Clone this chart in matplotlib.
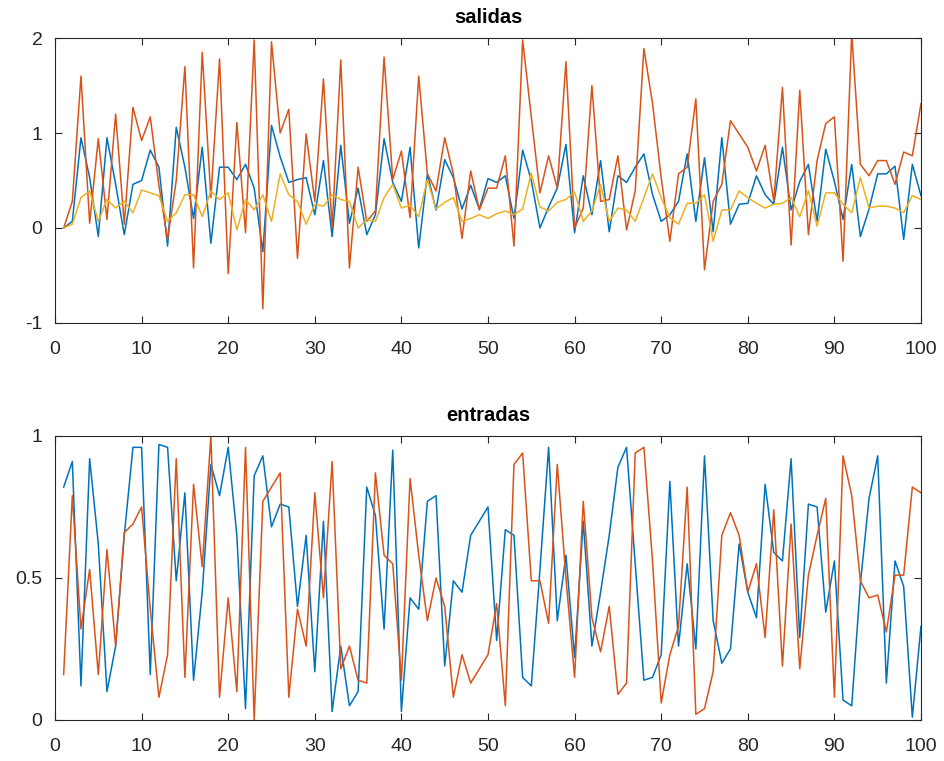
import matplotlib
matplotlib.use('Agg')
import matplotlib.pyplot as plt
import numpy as np

plt.rcParams['font.family'] = ['Liberation Sans', 'DejaVu Sans']
plt.rcParams['axes.unicode_minus'] = False

x = np.arange(1, 101)

# salidas
sal_blue = [0, 0.07, 0.95, 0.53, -0.09, 0.95, 0.46, -0.07, 0.46, 0.5,
            0.82, 0.64, -0.19, 1.06, 0.64, 0.1, 0.85, -0.16, 0.64, 0.64,
            0.51, 0.67, 0.42, -0.25, 1.08, 0.75, 0.48, 0.51, 0.53, 0.14,
            0.71, -0.09, 0.87, 0.05, 0.42, -0.07, 0.14, 0.94, 0.48, 0.28,
            0.85, -0.21, 0.57, 0.19, 0.72, 0.53, 0.2, 0.45, 0.2, 0.52,
            0.48, 0.55, 0.1, 0.82, 0.5, 0.0, 0.22, 0.42, 0.88, -0.05,
            0.55, 0.14, 0.71, -0.04, 0.55, 0.48, 0.64, 0.78, 0.35, 0.07,
            0.14, 0.28, 0.78, 0.07, 0.74, -0.04, 0.95, 0.04, 0.25, 0.26,
            0.55, 0.35, 0.25, 0.85, 0.19, 0.49, 0.67, 0.07, 0.83, 0.49,
            0.09, 0.67, -0.09, 0.2, 0.57, 0.57, 0.65, -0.12, 0.67, 0.34]
sal_orange = [0, 0.28, 1.6, 0.05, 0.94, 0.09, 1.2, 0.04, 1.27, 0.92,
              1.17, 0.45, -0.12, 0.5, 1.7, -0.42, 1.85, 0.32, 1.78, -0.48,
              1.11, -0.05, 1.98, -0.85, 1.96, 1.0, 1.25, -0.32, 0.99, 0.28,
              1.57, 0.0, 1.77, -0.42, 0.64, 0.07, 0.18, 1.8, 0.51, 0.81,
              0.11, 1.6, 0.57, 0.39, 0.95, 0.57, -0.11, 0.6, 0.19, 0.42,
              0.42, 0.76, -0.19, 1.98, 1.17, 0.37, 0.76, 0.42, 1.75, 0.0,
              0.21, 1.5, 0.28, 0.3, 0.76, -0.02, 0.39, 1.89, 1.31, 0.53,
              -0.14, 0.57, 0.64, 1.36, -0.44, 0.28, 0.46, 1.13, 0.99, 0.85,
              0.6, 0.87, 0.28, 1.48, -0.18, 1.45, -0.07, 0.71, 1.1, 1.17,
              -0.35, 2.05, 0.67, 0.55, 0.71, 0.71, 0.46, 0.8, 0.76, 1.31]
sal_yellow = [0, 0.04, 0.32, 0.39, 0.07, 0.3, 0.21, 0.28, 0.16, 0.4,
              0.37, 0.34, 0.07, 0.16, 0.35, 0.35, 0.12, 0.39, 0.3, 0.37,
              -0.02, 0.3, 0.19, 0.35, 0.07, 0.57, 0.35, 0.28, 0.04, 0.25,
              0.23, 0.35, 0.3, 0.28, 0.0, 0.09, 0.07, 0.32, 0.46, 0.21,
              0.24, 0.12, 0.51, 0.2, 0.27, 0.32, 0.07, 0.1, 0.14, 0.1,
              0.15, 0.18, 0.14, 0.2, 0.58, 0.22, 0.18, 0.27, 0.3, 0.38,
              0.07, 0.18, 0.46, 0.07, 0.21, 0.19, 0.07, 0.32, 0.57, 0.32,
              0.11, 0.04, 0.26, 0.26, 0.35, -0.14, 0.19, 0.19, 0.39, 0.32,
              0.26, 0.21, 0.25, 0.26, 0.32, 0.12, 0.39, 0.02, 0.37, 0.37,
              0.25, 0.16, 0.53, 0.21, 0.23, 0.23, 0.21, 0.16, 0.34, 0.3]

# entradas
ent_blue = [0.82, 0.91, 0.12, 0.92, 0.62, 0.1, 0.26, 0.65, 0.96, 0.96,
            0.16, 0.97, 0.96, 0.49, 0.8, 0.14, 0.45, 0.9, 0.79, 0.96,
            0.65, 0.04, 0.86, 0.93, 0.68, 0.76, 0.75, 0.4, 0.65, 0.17,
            0.7, 0.03, 0.26, 0.05, 0.1, 0.82, 0.72, 0.32, 0.95, 0.03,
            0.43, 0.39, 0.77, 0.79, 0.19, 0.49, 0.45, 0.65, 0.7, 0.75,
            0.28, 0.67, 0.65, 0.15, 0.12, 0.53, 0.96, 0.35, 0.58, 0.22,
            0.7, 0.26, 0.45, 0.65, 0.89, 0.96, 0.55, 0.14, 0.15, 0.23,
            0.84, 0.26, 0.55, 0.25, 0.93, 0.35, 0.2, 0.25, 0.62, 0.45,
            0.36, 0.83, 0.59, 0.56, 0.92, 0.29, 0.76, 0.75, 0.38, 0.56,
            0.07, 0.05, 0.48, 0.78, 0.93, 0.13, 0.56, 0.47, 0.01, 0.33]
ent_orange = [0.16, 0.79, 0.32, 0.53, 0.16, 0.6, 0.26, 0.66, 0.69, 0.75,
              0.39, 0.08, 0.23, 0.92, 0.15, 0.83, 0.54, 1.0, 0.08, 0.43,
              0.1, 0.96, 0.0, 0.77, 0.82, 0.87, 0.08, 0.39, 0.26, 0.8,
              0.43, 0.91, 0.18, 0.26, 0.14, 0.13, 0.87, 0.58, 0.55, 0.14,
              0.85, 0.58, 0.35, 0.5, 0.4, 0.08, 0.23, 0.13, 0.18, 0.23,
              0.41, 0.05, 0.9, 0.94, 0.49, 0.49, 0.34, 0.9, 0.5, 0.15,
              0.77, 0.36, 0.24, 0.4, 0.09, 0.13, 0.94, 0.96, 0.56, 0.06,
              0.23, 0.33, 0.82, 0.02, 0.04, 0.17, 0.65, 0.73, 0.65, 0.45,
              0.55, 0.29, 0.74, 0.19, 0.69, 0.18, 0.51, 0.65, 0.78, 0.08,
              0.93, 0.79, 0.49, 0.43, 0.44, 0.31, 0.51, 0.51, 0.82, 0.8]

c_blue = '#0072BD'
c_orange = '#D95319'
c_yellow = '#EDB120'
axc = '#262626'

fig = plt.figure(figsize=(9.45, 7.61), dpi=100)
ax1 = fig.add_axes([0.0582, 0.5756, 0.9164, 0.3744])
ax2 = fig.add_axes([0.0582, 0.0539, 0.9164, 0.3732])

ax1.plot(x, sal_blue, color=c_blue, lw=1.1)
ax1.plot(x, sal_orange, color=c_orange, lw=1.1)
ax1.plot(x, sal_yellow, color=c_yellow, lw=1.1)
ax1.set_ylim(-1, 2)
ax1.set_yticks([-1, 0, 1, 2])
ax1.set_title('salidas', fontsize=14.5, fontweight='bold', color='black', pad=11)

ax2.plot(x, ent_blue, color=c_blue, lw=1.1)
ax2.plot(x, ent_orange, color=c_orange, lw=1.1)
ax2.set_ylim(0, 1)
ax2.set_yticks([0, 0.5, 1])
ax2.set_yticklabels(['0', '0.5', '1'])
ax2.set_title('entradas', fontsize=14.5, fontweight='bold', color='black', pad=11)

for ax in (ax1, ax2):
    ax.set_xlim(0, 100)
    ax.set_xticks(range(0, 101, 10))
    ax.tick_params(direction='in', top=True, right=True, length=5, width=0.8,
                   colors=axc, labelsize=14, labelcolor=axc)
    ax.tick_params(axis='x', pad=13)
    ax.tick_params(axis='y', pad=9)
    for s in ax.spines.values():
        s.set_color(axc)
        s.set_linewidth(0.8)

fig.savefig('out.png', dpi=100)
